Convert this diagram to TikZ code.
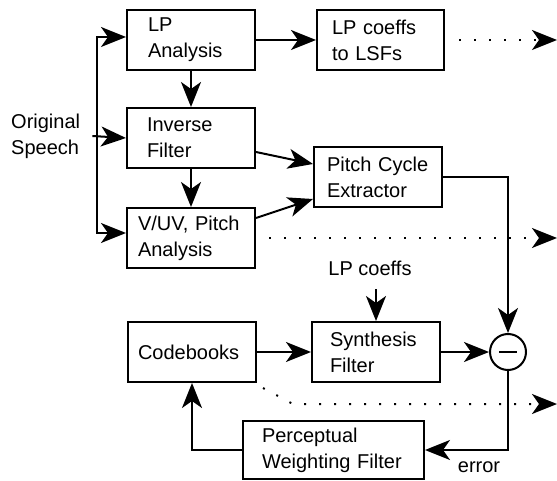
\documentclass[tikz,border=0pt]{standalone}
\usepackage{fontspec}
\setmainfont{Liberation Sans}
\usetikzlibrary{arrows.meta,calc}
\begin{document}
\begin{tikzpicture}[x=1pt,y=-1pt,
  every node/.style={font=\fontsize{20}{26}\selectfont},
  blk/.style={draw, line width=2pt, minimum height=60pt, align=left},
  arr/.style={line width=2pt, -{Stealth[length=25pt,width=20pt,inset=7pt]}},
  ln/.style={line width=2pt},
  dots/.style={line width=2pt, dash pattern=on 2pt off 13pt, -{Stealth[length=25pt,width=20pt,inset=7pt]}}
]
\useasboundingbox (0,0) rectangle (557,481);

% boxes
\node[blk, minimum width=128pt, inner xsep=21pt, text width=86pt] (lp) at (191,40) {LP\\Analysis};
\node[blk, minimum width=128pt, inner xsep=20pt, text width=88pt] (inv) at (191,138) {Inverse\\Filter};
\node[blk, minimum width=128pt, inner xsep=11pt, text width=106pt] (vuv) at (191,238) {V/UV, Pitch\\Analysis};
\node[blk, minimum width=127pt, inner xsep=15pt, text width=97pt] (lsf) at (380.5,40) {LP coeffs\\to LSFs};
\node[blk, minimum width=128pt, inner xsep=13pt, text width=102pt] (pce) at (378,177) {Pitch Cycle\\Extractor};
\node[blk, minimum width=128pt, inner xsep=18pt, text width=92pt] (syn) at (376,352) {Synthesis\\Filter};
\node[blk, minimum width=128pt, inner xsep=10pt, text width=108pt] (cb) at (192,352) {Codebooks};
\node[blk, minimum width=181pt, minimum height=58pt, inner xsep=19pt, text width=143pt] (pwf) at (333.5,450) {Perceptual\\Weighting Filter};
\node[draw, circle, line width=2pt, minimum size=36pt, inner sep=0pt] (circ) at (508,352) {};
\draw[ln] ([xshift=-9pt]circ.center) -- ([xshift=9pt]circ.center);

% labels
\node[align=left, inner xsep=0pt, anchor=west] (orig) at (11,136) {Original\\Speech};
\node (lpc) at (370,268) {LP coeffs};
\node (err) at (479,467) {error};

% coordinates
\coordinate (fork) at (97,136);
\coordinate (lpin) at (376,289);
\coordinate (outA) at (557,40);
\coordinate (outB) at (557,238);
\coordinate (outC) at (557,404);
\coordinate (bend) at (293,404);

% connectors
\draw[arr] ([xshift=12pt]orig.east) -- (inv.west);
\draw[arr] (fork) |- ([yshift=3pt]lp.west);
\draw[arr] (fork) |- ([yshift=5pt]vuv.west);
\draw[arr] (lp.south) -- (inv.north);
\draw[arr] (inv.south) -- (vuv.north);
\draw[arr] (lp.east) -- (lsf.west);
\draw[arr] ([yshift=-14pt]inv.east) -- ([yshift=13pt]pce.west);
\draw[arr] ([yshift=20pt]vuv.east) -- ([yshift=-22pt]pce.west);
\draw[arr] (pce.east) -| (circ.north);
\draw[arr] (lpin) -- (syn.north);
\draw[arr] (cb.east) -- (syn.west);
\draw[arr] (syn.east) -- (circ.west);
\draw[arr] (circ.south) |- (pwf.east);
\draw[arr] (pwf.west) -| (cb.south);

% dotted outputs
\draw[dots] ([xshift=14pt]lsf.east) -- (outA);
\draw[dots] ([xshift=13pt]vuv.east) -- (outB);
\draw[dots] ([shift={(6pt,-5pt)}]cb.south east) -- (bend) -- (outC);
\end{tikzpicture}
\end{document}
